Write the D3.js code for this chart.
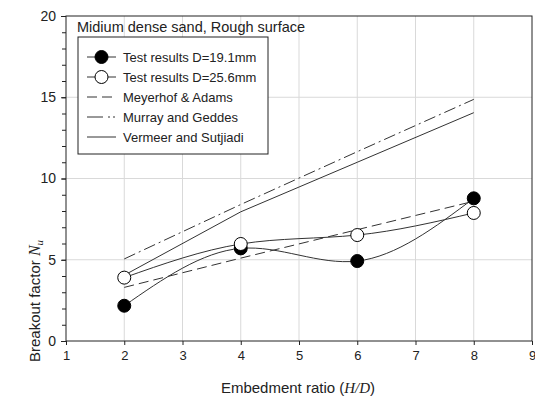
<!DOCTYPE html>
<html>
<head>
<meta charset="utf-8">
<script src="https://cdn.jsdelivr.net/npm/d3@7"></script>
<style>
  body { margin: 0; background: #fff; }
  text { font-family: "Liberation Sans", Arial, sans-serif; fill: #222; }
</style>
</head>
<body>
<div id="chart"></div>
<script>
// Data
const ratios = [2, 4, 6, 8];
const test191 = [2.17, 5.7, 4.92, 8.78];
const test256 = [3.9, 5.97, 6.52, 7.88];
const meyerhof = [3.3, 5.1, 6.85, 8.6];
const murray = [5.05, 8.4, 11.65, 14.87];
const vermeer = [4.05, 7.95, 11.0, 14.05];
const xTicks = [1, 2, 3, 4, 5, 6, 7, 8, 9];
const yTicks = [0, 5, 10, 15, 20];
const legendLabels = ["Test results D=19.1mm", "Test results D=25.6mm", "Meyerhof & Adams", "Murray and Geddes", "Vermeer and Sutjiadi"];

const width = 535;
const height = 397;
const margin = { top: 16, right: 3, bottom: 56, left: 66 };

const svg = d3.select("#chart")
    .append("svg")
    .attr("width", width)
    .attr("height", height);

const x = d3.scaleLinear().domain([1, 9]).range([margin.left, width - margin.right]);
const y = d3.scaleLinear().domain([0, 20]).range([height - margin.bottom, margin.top]);

// Grid lines
svg.append("g")
    .selectAll("line")
    .data(xTicks.slice(1, -1))
    .join("line")
    .attr("x1", d => x(d)).attr("x2", d => x(d))
    .attr("y1", y(0)).attr("y2", y(20))
    .attr("stroke", "#d9d9d9");

svg.append("g")
    .selectAll("line")
    .data(yTicks.slice(1, -1))
    .join("line")
    .attr("x1", x(1)).attr("x2", x(9))
    .attr("y1", d => y(d)).attr("y2", d => y(d))
    .attr("stroke", "#d9d9d9");

// Frame
svg.append("rect")
    .attr("x", x(1)).attr("y", y(20))
    .attr("width", x(9) - x(1)).attr("height", y(0) - y(20))
    .attr("fill", "none").attr("stroke", "#222");

// Axes
const xAxis = svg.append("g")
    .attr("transform", `translate(0,${y(0)})`)
    .call(d3.axisBottom(x).tickValues(xTicks).tickSize(4).tickPadding(6).tickFormat(d3.format("d")));
xAxis.select(".domain").remove();
xAxis.selectAll("text").attr("font-size", 13).attr("fill", "#333").style("font-family", "Liberation Sans, Arial, sans-serif");

const yMinor = svg.append("g")
    .attr("transform", `translate(${x(1)},0)`)
    .call(d3.axisLeft(y).tickValues(d3.range(0, 21, 1)).tickSize(4).tickFormat(""));
yMinor.select(".domain").remove();

const yAxis = svg.append("g")
    .attr("transform", `translate(${x(1)},0)`)
    .call(d3.axisLeft(y).tickValues(yTicks).tickSize(5).tickPadding(5));
yAxis.select(".domain").remove();
yAxis.selectAll("text").attr("font-size", 14).attr("fill", "#333").style("font-family", "Liberation Sans, Arial, sans-serif");
svg.selectAll(".tick line").attr("stroke", "#222");

// Lines
const pts = vals => ratios.map((r, i) => [r, vals[i]]);
const smooth = d3.line().x(d => x(d[0])).y(d => y(d[1])).curve(d3.curveNatural);
const straight = d3.line().x(d => x(d[0])).y(d => y(d[1]));

svg.append("path").datum(pts(meyerhof)).attr("d", straight)
    .attr("fill", "none").attr("stroke", "#333").attr("stroke-dasharray", "10,5");
svg.append("path").datum(pts(murray)).attr("d", straight)
    .attr("fill", "none").attr("stroke", "#333").attr("stroke-dasharray", "12,4,2,4");
svg.append("path").datum(pts(vermeer)).attr("d", straight)
    .attr("fill", "none").attr("stroke", "#333");
svg.append("path").datum(pts(test191)).attr("d", smooth)
    .attr("fill", "none").attr("stroke", "#333");
svg.append("path").datum(pts(test256)).attr("d", smooth)
    .attr("fill", "none").attr("stroke", "#333");

// Markers
svg.append("g").selectAll("circle")
    .data(pts(test191))
    .join("circle")
    .attr("cx", d => x(d[0])).attr("cy", d => y(d[1])).attr("r", 6.5)
    .attr("fill", "#000").attr("stroke", "#000");
svg.append("g").selectAll("circle")
    .data(pts(test256))
    .join("circle")
    .attr("cx", d => x(d[0])).attr("cy", d => y(d[1])).attr("r", 6.5)
    .attr("fill", "#fff").attr("stroke", "#000");

// Title inside plot
svg.append("text")
    .attr("x", 77).attr("y", 32)
    .attr("font-size", 14.5)
    .text("Midium dense sand, Rough surface");

// Legend
const legend = svg.append("g");
legend.append("rect")
    .attr("x", 78).attr("y", 37).attr("width", 190).attr("height", 117)
    .attr("fill", "#fff").attr("stroke", "#222");

const legendStyles = [
    { dash: null, marker: "filled" },
    { dash: null, marker: "open" },
    { dash: "10,5", marker: null },
    { dash: "16,5,2,3,2", marker: null },
    { dash: null, marker: null }
];

legendLabels.forEach((label, i) => {
    const cy = 57 + i * 20;
    const row = legend.append("g");
    row.append("line")
        .attr("x1", 87).attr("x2", 116).attr("y1", cy).attr("y2", cy)
        .attr("stroke", "#333")
        .attr("stroke-dasharray", legendStyles[i].dash);
    if (legendStyles[i].marker) {
        row.append("circle")
            .attr("cx", 101.5).attr("cy", cy).attr("r", 6.5)
            .attr("fill", legendStyles[i].marker === "filled" ? "#000" : "#fff")
            .attr("stroke", "#000");
    }
    row.append("text")
        .attr("x", 123).attr("y", cy + 4.5)
        .attr("font-size", 13)
        .text(label);
});

// Axis titles
const xTitle = svg.append("text")
    .attr("x", 298).attr("y", 393)
    .attr("text-anchor", "middle")
    .attr("font-size", 15);
xTitle.append("tspan").text("Embedment ratio (");
xTitle.append("tspan").style("font-family", "Liberation Serif, Times New Roman, serif").attr("font-style", "italic").text("H/D");
xTitle.append("tspan").text(")");

const yTitle = svg.append("text")
    .attr("transform", "translate(40,362) rotate(-90)")
    .attr("text-anchor", "start")
    .attr("font-size", 15);
yTitle.append("tspan").text("Breakout factor ");
yTitle.append("tspan").style("font-family", "Liberation Serif, Times New Roman, serif").attr("font-style", "italic").attr("font-size", 16).text("N");
yTitle.append("tspan").style("font-family", "Liberation Serif, Times New Roman, serif").attr("font-style", "italic").attr("font-size", 11).attr("dy", 3).text("u");
</script>
</body>
</html>
